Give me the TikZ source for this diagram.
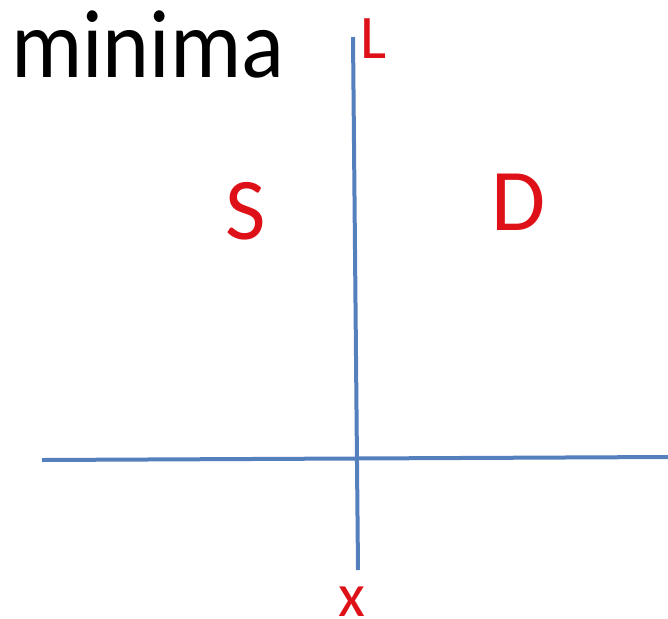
\documentclass[tikz,border=0pt]{standalone}
\usepackage{fontspec}
\setmainfont{Carlito}
\usepackage{graphicx}
\definecolor{axisblue}{RGB}{84,128,190}
\definecolor{labred}{RGB}{222,16,24}
\begin{document}
\begin{tikzpicture}[x=1pt,y=-1pt,
  axis/.style={draw=axisblue,line width=4pt},
  lab/.style={text=labred,inner sep=0pt}]
\useasboundingbox (0,0) rectangle (668,618);
\node[anchor=base west,inner sep=0pt] (title) at (11,77) {\scalebox{0.92}[1]{\fontsize{97}{97}\selectfont minima}};
\coordinate (vtop) at (353,37);
\coordinate (vbot) at (358,570);
\coordinate (hleft) at (42,460);
\coordinate (hright) at (668,457);
\draw[axis] (vtop) -- (vbot);
\draw[axis] (hleft) -- (hright);
\node[lab,anchor=base west] (L) at (360,58) {\fontsize{62}{62}\selectfont L};
\node[lab,anchor=base] (X) at (352,616) {\fontsize{62}{62}\selectfont x};
\node[lab,anchor=base] (S) at (246,239) {\fontsize{88}{88}\selectfont S};
\node[lab,anchor=base] (D) at (519,230) {\fontsize{88}{88}\selectfont D};
\end{tikzpicture}
\end{document}
